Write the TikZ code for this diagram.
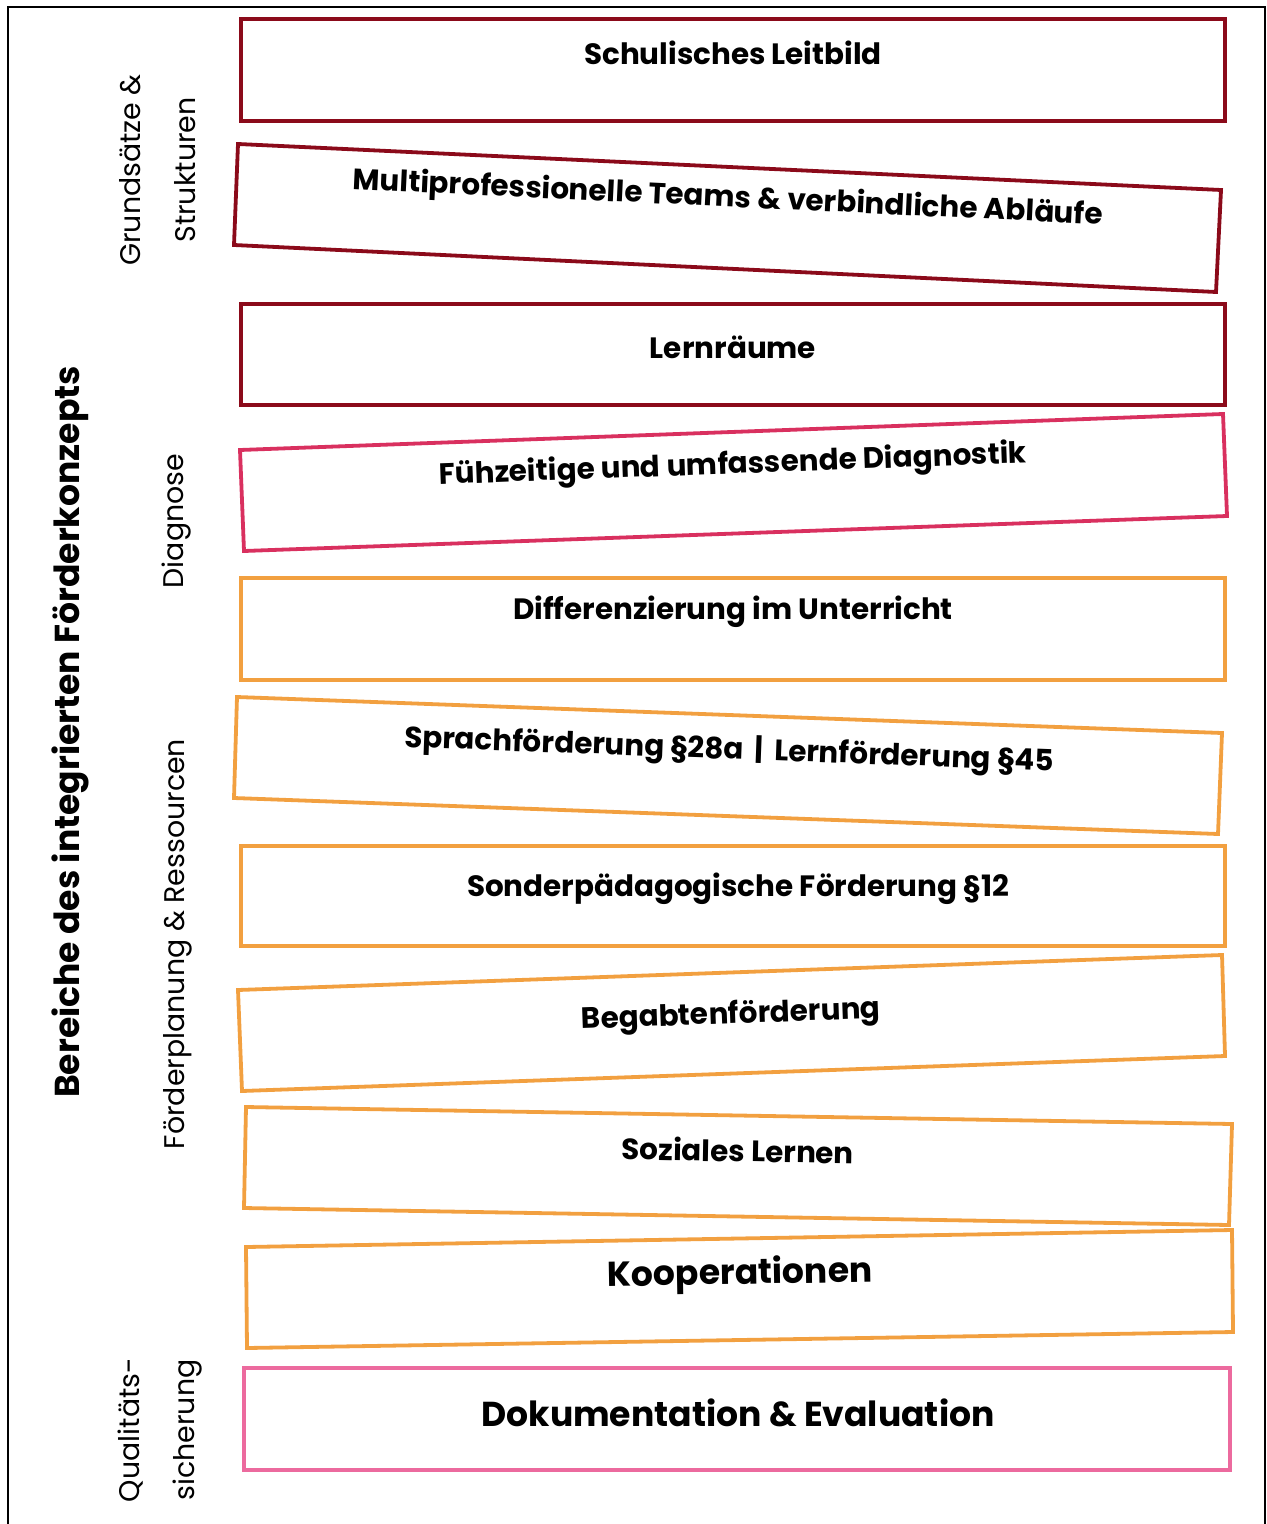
\documentclass[tikz,border=0pt]{standalone}
\usepackage{fontspec}
\setmainfont{Poppins}
\definecolor{dred}{RGB}{139,10,26}
\definecolor{crim}{RGB}{217,48,95}
\definecolor{oran}{RGB}{242,160,64}
\definecolor{pink}{RGB}{236,106,158}
\begin{document}
\begin{tikzpicture}[x=0.5pt,y=-0.5pt,
  boxline/.style={line width=1.9pt},
  boxtext/.style={font=\bfseries\fontsize{14.7}{17}\selectfont, inner sep=0pt},
  bigtext/.style={font=\bfseries\fontsize{17.3}{20}\selectfont, inner sep=0pt},
  sidetext/.style={font=\fontsize{14.2}{27.5}\selectfont, rotate=90, align=center, inner sep=0pt}]
\useasboundingbox (0,0) rectangle (1266,1524);
\draw[line width=1pt] (8,1535) -- (8,7) -- (1265,7) -- (1265,1535);
% boxes
\draw[boxline,dred] (241,19) -- (1225,19) -- (1225,121) -- (241,121) -- cycle;
\draw[boxline,dred] (238,144) -- (1221,190) -- (1216,292) -- (234,245) -- cycle;
\draw[boxline,dred] (241,304) -- (1225,304) -- (1225,405) -- (241,405) -- cycle;
\draw[boxline,crim] (240,450) -- (1223,414) -- (1227,516) -- (244,551) -- cycle;
\draw[boxline,oran] (241,578) -- (1225,578) -- (1225,680) -- (241,680) -- cycle;
\draw[boxline,oran] (237,697) -- (1222,733) -- (1218,834) -- (234,798) -- cycle;
\draw[boxline,oran] (241,846) -- (1225,846) -- (1225,946) -- (241,946) -- cycle;
\draw[boxline,oran] (238,990) -- (1222,955) -- (1225,1056) -- (242,1091) -- cycle;
\draw[boxline,oran] (246,1107) -- (1232,1124) -- (1229,1225) -- (244,1208) -- cycle;
\draw[boxline,oran] (246,1247) -- (1232,1230) -- (1233,1332) -- (247,1348) -- cycle;
\draw[boxline,pink] (244,1368) -- (1230,1368) -- (1230,1470) -- (244,1470) -- cycle;
% texts
\node[boxtext] (t1) at (733,53) {Schulisches Leitbild};
\node[boxtext,rotate=-2.7] (t2) at (728,199) {Multiprofessionelle Teams \& verbindliche Abläufe};
\node[boxtext] (t3) at (733,347) {Lernräume};
\node[boxtext,rotate=2.1] (t4) at (733,466) {Fühzeitige und umfassende Diagnostik};
\node[boxtext] (t5) at (733,612) {Differenzierung im Unterricht};
\node[boxtext,rotate=-2.1] (t6) at (729,751) {Sprachförderung §28a \,|\, Lernförderung §45};
\node[boxtext] (t7) at (738,889) {Sonderpädagogische Förderung §12};
\node[boxtext,rotate=2] (t8) at (731,1016) {Begabtenförderung};
\node[boxtext,rotate=-1] (t9) at (738,1150) {Soziales Lernen};
\node[bigtext,rotate=1] (t10) at (740,1275) {Kooperationen};
\node[bigtext] (t11) at (738,1413) {Dokumentation \& Evaluation};
% side labels
\node[font=\bfseries\fontsize{17.3}{20}\selectfont, rotate=90, inner sep=0pt] (s0) at (70,732) {Bereiche des integrierten Förderkonzepts};
\node[sidetext] (s1) at (158,170) {Grundsätze \&\\Strukturen};
\node[sidetext] (s2) at (177,521) {Diagnose};
\node[sidetext] (s3) at (178,944) {Förderplanung \& Ressourcen};
\node[sidetext] (s4) at (160,1430) {Qualitäts-\\sicherung};
\end{tikzpicture}
\end{document}
